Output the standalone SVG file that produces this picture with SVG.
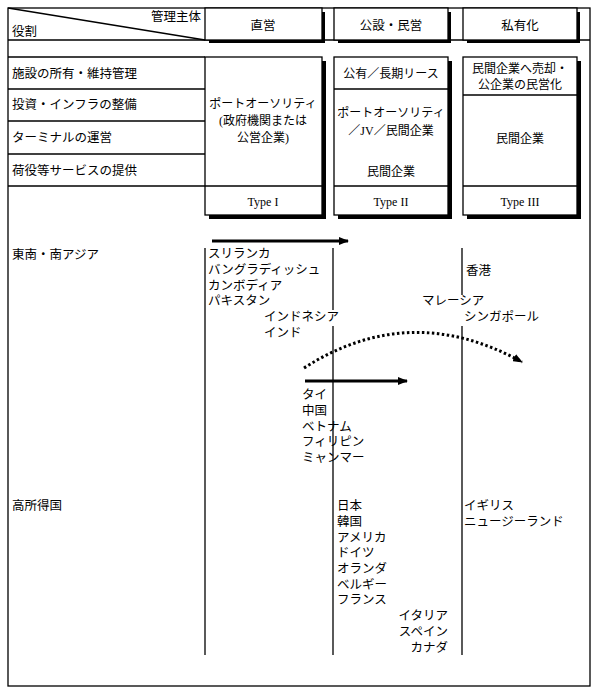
<svg xmlns="http://www.w3.org/2000/svg" width="600" height="696" viewBox="0 0 600 696">
<style>
text{font-family:"Liberation Serif","Noto Sans CJK JP",serif;font-size:12.5px;fill:#000}
.c{text-anchor:middle}
.r{text-anchor:end}
.s{font-size:12px}
.ln{stroke:#000;stroke-width:1.3;fill:none}
.bx{fill:#fff;stroke:#000;stroke-width:1.3}
.sh{fill:#000}
</style>
<defs>
<marker id="ah" markerWidth="10" markerHeight="8" refX="9" refY="4" orient="auto" markerUnits="userSpaceOnUse"><path d="M0,0L10,4L0,8Z" fill="#000"/></marker>
</defs>
<rect x="0" y="0" width="600" height="696" fill="#fff"/>
<rect x="8" y="8" width="582" height="678" class="ln"/>
<g id="header">
<line x1="8" y1="40" x2="590" y2="40" class="ln"/>
<line x1="8" y1="8" x2="205" y2="40" class="ln"/>
<text x="201" y="21" class="r">管理主体</text>
<text x="12" y="36">役割</text>
<rect x="322" y="12" width="3" height="31" class="sh"/><rect x="209" y="40" width="116" height="3" class="sh"/>
<rect x="205" y="8" width="117" height="32" class="bx"/><text x="263" y="30" class="c">直営</text>
<rect x="448" y="12" width="3" height="31" class="sh"/><rect x="338" y="40" width="113" height="3" class="sh"/>
<rect x="334" y="8" width="114" height="32" class="bx"/><text x="391" y="30" class="c">公設・民営</text>
<rect x="577" y="12" width="3" height="31" class="sh"/><rect x="467" y="40" width="113" height="3" class="sh"/>
<rect x="463" y="8" width="114" height="32" class="bx"/><text x="520" y="30" class="c">私有化</text>
</g>
<g id="roles">
<line x1="8" y1="57" x2="205" y2="57" class="ln"/>
<line x1="8" y1="89" x2="205" y2="89" class="ln"/>
<line x1="8" y1="121" x2="205" y2="121" class="ln"/>
<line x1="8" y1="154" x2="205" y2="154" class="ln"/>
<line x1="8" y1="186" x2="205" y2="186" class="ln"/>
<text x="12" y="78">施設の所有・維持管理</text>
<text x="12" y="109">投資・インフラの整備</text>
<text x="12" y="142">ターミナルの運営</text>
<text x="12" y="175">荷役等サービスの提供</text>
</g>
<g id="type1">
<rect x="322" y="61" width="4" height="158" class="sh"/><rect x="209" y="215" width="117" height="4" class="sh"/>
<rect x="205" y="57" width="117" height="158" class="bx"/>
<line x1="205" y1="186" x2="322" y2="186" class="ln"/>
<text x="263" y="108" class="c s">ポートオーソリティ</text>
<text x="263" y="125" class="c s">(政府機関または</text>
<text x="263" y="142" class="c s">公営企業)</text>
<text x="263" y="206" class="c s">Type I</text>
</g>
<g id="type2">
<rect x="448" y="61" width="4" height="158" class="sh"/><rect x="338" y="215" width="114" height="4" class="sh"/>
<rect x="334" y="57" width="114" height="158" class="bx"/>
<line x1="334" y1="89" x2="448" y2="89" class="ln"/>
<line x1="334" y1="186" x2="448" y2="186" class="ln"/>
<text x="391" y="78" class="c s">公有／長期リース</text>
<text x="391" y="117" class="c s">ポートオーソリティ</text>
<text x="391" y="135" class="c s">／JV／民間企業</text>
<text x="391" y="176" class="c s">民間企業</text>
<text x="391" y="206" class="c s">Type II</text>
</g>
<g id="type3">
<rect x="577" y="61" width="4" height="158" class="sh"/><rect x="467" y="215" width="114" height="4" class="sh"/>
<rect x="463" y="57" width="114" height="158" class="bx"/>
<line x1="463" y1="95" x2="577" y2="95" class="ln"/>
<line x1="463" y1="186" x2="577" y2="186" class="ln"/>
<text x="520" y="73" class="c s">民間企業へ売却・</text>
<text x="520" y="89" class="c s">公企業の民営化</text>
<text x="520" y="143" class="c s">民間企業</text>
<text x="520" y="206" class="c s">Type III</text>
</g>
<g id="connectors">
<line x1="205" y1="248" x2="205" y2="655" class="ln"/>
<line x1="333" y1="248" x2="333" y2="310" class="ln"/>
<line x1="333" y1="326" x2="333" y2="655" class="ln"/>
<line x1="462" y1="248" x2="462" y2="295" class="ln"/>
<line x1="462" y1="326" x2="462" y2="655" class="ln"/>
<line x1="212" y1="241" x2="348" y2="241" stroke="#000" stroke-width="3" marker-end="url(#ah)"/>
<line x1="305" y1="381" x2="407" y2="381" stroke="#000" stroke-width="3" marker-end="url(#ah)"/>
<path d="M304,368 Q410,300 522,362" fill="none" stroke="#000" stroke-width="3" stroke-dasharray="2.5,2.5" marker-end="url(#ah)"/>
</g>
<g id="countries">
<text x="12" y="259">東南・南アジア</text>
<text x="12" y="510">高所得国</text>
<text x="208" y="258">スリランカ</text>
<text x="208" y="274">バングラディッシュ</text>
<text x="208" y="290">カンボディア</text>
<text x="208" y="305">パキスタン</text>
<text x="264" y="321">インドネシア</text>
<text x="264" y="337">インド</text>
<text x="466" y="275">香港</text>
<text x="422" y="305">マレーシア</text>
<text x="464" y="321">シンガポール</text>
<text x="302" y="399">タイ</text>
<text x="302" y="415">中国</text>
<text x="302" y="431">ベトナム</text>
<text x="302" y="446">フィリピン</text>
<text x="302" y="462">ミャンマー</text>
<text x="337" y="510">日本</text>
<text x="337" y="526">韓国</text>
<text x="337" y="542">アメリカ</text>
<text x="337" y="557">ドイツ</text>
<text x="337" y="573">オランダ</text>
<text x="337" y="589">ベルギー</text>
<text x="337" y="604">フランス</text>
<text x="448" y="620" class="r">イタリア</text>
<text x="448" y="636" class="r">スペイン</text>
<text x="448" y="652" class="r">カナダ</text>
<text x="464" y="510">イギリス</text>
<text x="464" y="526">ニュージーランド</text>
</g>
</svg>
